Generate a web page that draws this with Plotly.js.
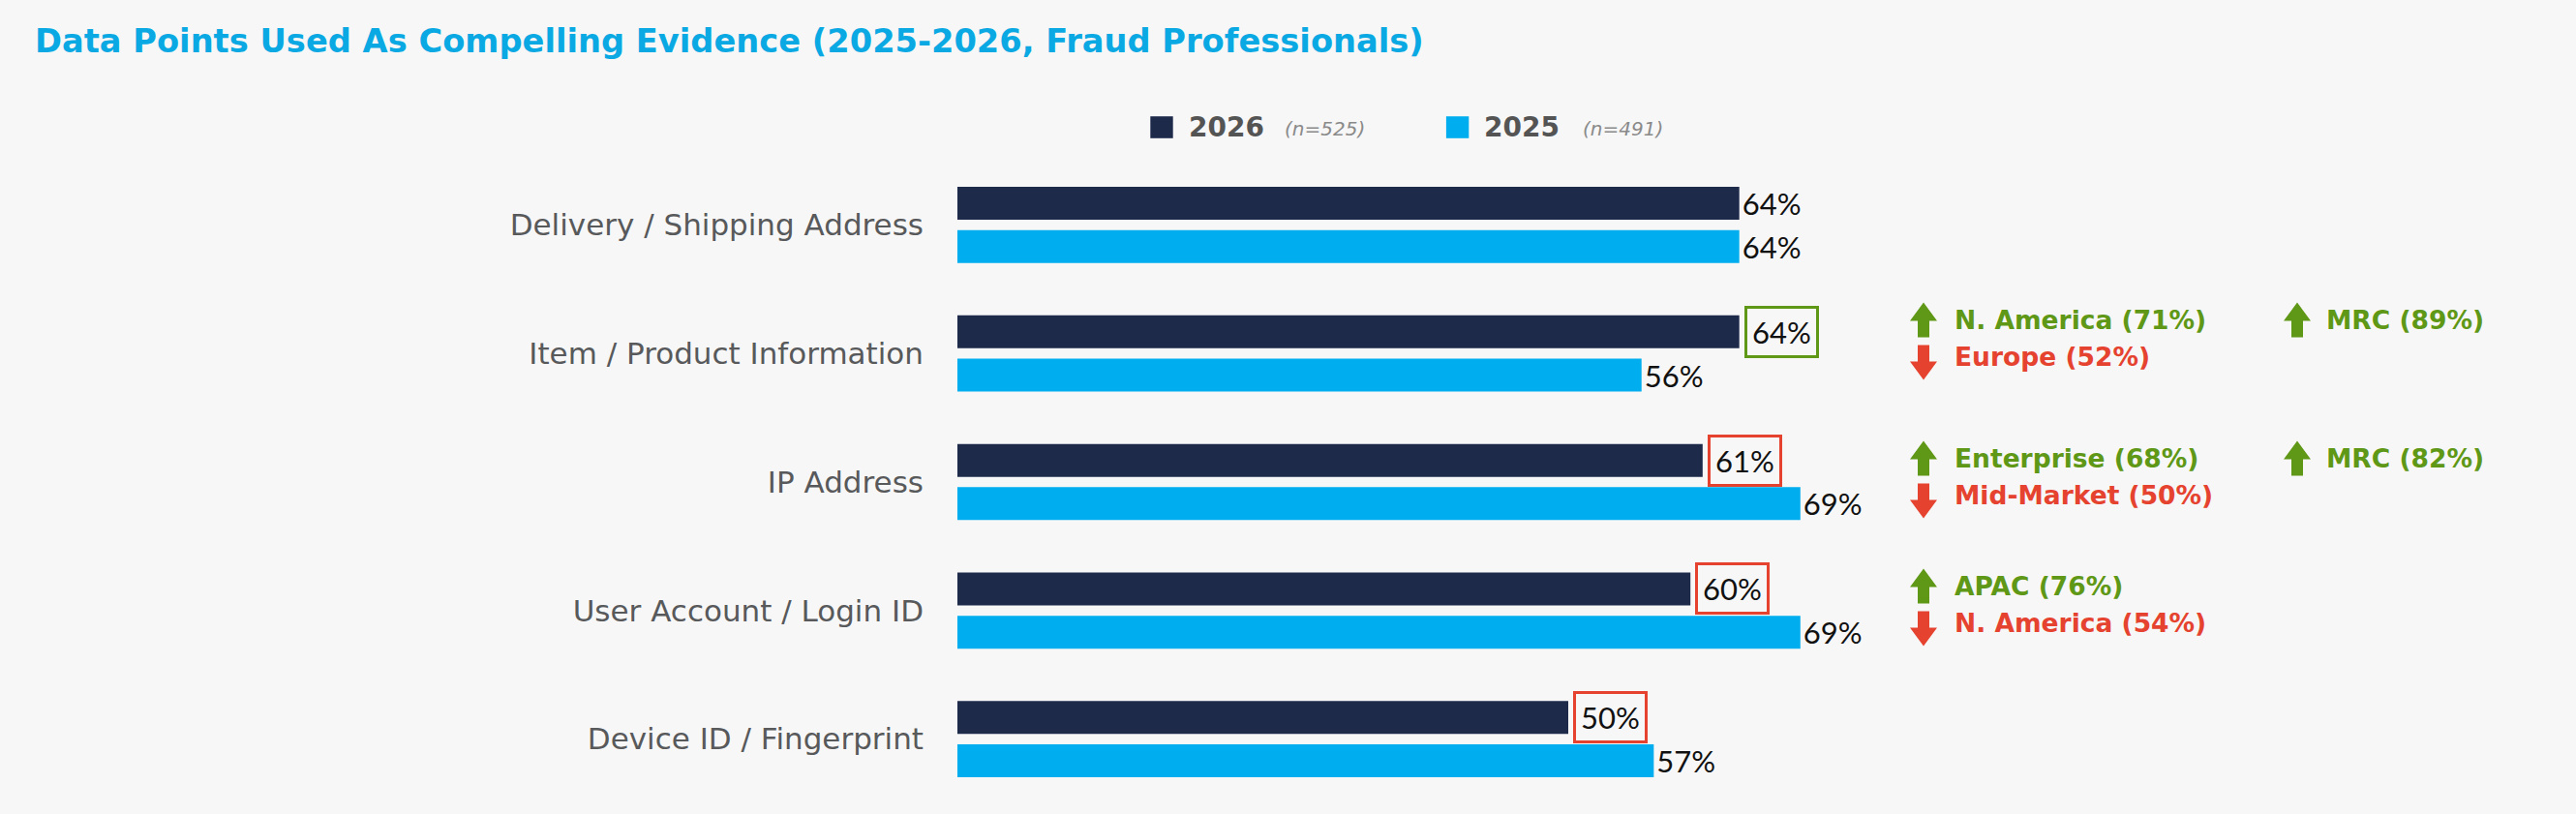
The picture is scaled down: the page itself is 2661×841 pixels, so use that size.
<!DOCTYPE html>
<html><head><meta charset="utf-8">
<script src="https://cdn.plot.ly/plotly-3.0.1.min.js"></script>
<style>html,body{margin:0;padding:0;background:#f7f7f7;}#chart{width:2661px;height:841px;}</style>
</head><body><div id="chart"></div>
<script>
// ---------------- data ----------------
const categories = ['Delivery / Shipping Address','Item / Product Information','IP Address','User Account / Login ID','Device ID / Fingerprint'];
const values2026 = [64, 64, 61, 60, 50];
const values2025 = [64, 56, 69, 69, 57];
const seriesNames = ['2026', '2025'];
const sampleSizes = ['(n=525)', '(n=491)'];
const change2026 = [null, 'up', 'down', 'down', 'down'];   // highlighted 2026 labels

const calloutCats   = ['Item / Product Information','Item / Product Information','Item / Product Information','IP Address','IP Address','IP Address','User Account / Login ID','User Account / Login ID'];
const calloutLabels = ['N. America (71%)','Europe (52%)','MRC (89%)','Enterprise (68%)','Mid-Market (50%)','MRC (82%)','APAC (76%)','N. America (54%)'];
const calloutDirs   = ['up','down','up','up','down','up','up','down'];
const calloutCols   = [0, 0, 1, 0, 0, 1, 0, 0];

// ---------------- styling / layout ----------------
const W = 2661, H = 841;
const M = {l: 989, r: 0, t: 166, b: 11};
const PW = W - M.l - M.r, PH = H - M.t - M.b;
const PX_PER_PCT = 12.62;
const BARGAP = 0.327, BARGROUPGAP = 0.239;
const C_DARK = '#1d2a4a', C_LIGHT = '#00aeef', C_TITLE = '#0aa9e3';
const C_UP = '#5f9816', C_DOWN = '#e5432f';
const FONT = 'DejaVu Sans';
const VFONT = 'Lato';
const px2x = p => (p - M.l) / PW;
const px2y = p => 1 - (p - M.t) / PH;

// callout row positions (pixel y of first text row per category)
const calloutRow0 = {'Item / Product Information': 330, 'IP Address': 473, 'User Account / Login ID': 605};
const ROW_STEP = 38.5;
const colArrowX = [1987, 2373], colTextX = [2017, 2401];

const valueFont = {family: VFONT, size: 31, color: '#111111', weight: 400};

const traces = [
  {type: 'bar', orientation: 'h', name: seriesNames[0], y: categories, x: values2026,
   marker: {color: C_DARK},
   text: values2026.map((v, i) => change2026[i] ? '' : v + '%'),
   textposition: 'outside', constraintext: 'none', cliponaxis: false,
   textfont: valueFont, showlegend: false, hoverinfo: 'skip'},
  {type: 'bar', orientation: 'h', name: seriesNames[1], y: categories, x: values2025,
   marker: {color: C_LIGHT},
   text: values2025.map(v => v + '%'),
   textposition: 'outside', constraintext: 'none', cliponaxis: false,
   textfont: valueFont, showlegend: false, hoverinfo: 'skip'}
];

const annotations = [];
const shapes = [];

// boxed 2026 labels
const darkOffset = (1 - BARGAP) / 4;
values2026.forEach((v, i) => {
  if (!change2026[i]) return;
  annotations.push({xref: 'x', yref: 'y', x: v, y: i - darkOffset, xanchor: 'left', yanchor: 'middle',
    xshift: 5, text: v + '%', showarrow: false, font: valueFont,
    bordercolor: change2026[i] === 'up' ? C_UP : C_DOWN, borderwidth: 3, borderpad: 5, bgcolor: 'rgba(0,0,0,0)'});
});

// callouts
const upPath = 'M0,18 L14,-1 L6,-1 L6,-18 L-6,-18 L-6,-1 L-14,-1 Z';
const downPath = 'M0,-18 L14,1 L6,1 L6,18 L-6,18 L-6,1 L-14,1 Z';
calloutLabels.forEach((lab, k) => {
  const col = calloutCols[k];
  const row = col === 1 ? 0 : (calloutDirs[k] === 'up' ? 0 : 1);
  const ty = calloutRow0[calloutCats[k]] + row * ROW_STEP;
  const color = calloutDirs[k] === 'up' ? C_UP : C_DOWN;
  const ay = calloutDirs[k] === 'up' ? ty + 0.5 : ty + 6;
  shapes.push({type: 'path', xref: 'paper', yref: 'paper', xsizemode: 'pixel', ysizemode: 'pixel',
    xanchor: px2x(colArrowX[col]), yanchor: px2y(ay),
    path: calloutDirs[k] === 'up' ? upPath : downPath, fillcolor: color, line: {width: 0}});
  annotations.push({xref: 'paper', yref: 'paper', x: px2x(colTextX[col]), y: px2y(ty),
    xanchor: 'left', yanchor: 'middle', showarrow: false, text: '<b>' + lab + '</b>',
    font: {family: FONT, size: 26.5, color: color}});
});

// legend (custom, large swatches)
const legendSwatchX = [1200, 1505.6], legendTextX = [1226, 1531], legendNX = [1325, 1633];
const LEG_Y = 131.5;
seriesNames.forEach((nm, i) => {
  const cx = legendSwatchX[i];
  shapes.push({type: 'rect', xref: 'paper', yref: 'paper',
    x0: px2x(cx - 11.7), x1: px2x(cx + 11.7), y0: px2y(LEG_Y - 11.3), y1: px2y(LEG_Y + 11.3),
    fillcolor: i === 0 ? C_DARK : C_LIGHT, line: {width: 0}});
  annotations.push({xref: 'paper', yref: 'paper', x: px2x(legendTextX[i]), y: px2y(LEG_Y),
    xanchor: 'left', yanchor: 'middle', showarrow: false, text: '<b>' + nm + '</b>',
    font: {family: FONT, size: 28, color: '#545454'}});
  annotations.push({xref: 'paper', yref: 'paper', x: px2x(legendNX[i]), y: px2y(LEG_Y + 2),
    xanchor: 'left', yanchor: 'middle', showarrow: false, text: '<i>' + sampleSizes[i] + '</i>',
    font: {family: FONT, size: 20, color: '#8a8a8a', weight: 300}});
});

const layout = {
  width: W, height: H,
  paper_bgcolor: '#f7f7f7', plot_bgcolor: '#f7f7f7',
  margin: M,
  title: {text: '<b>Data Points Used As Compelling Evidence (2025-2026, Fraud Professionals)</b>',
    xref: 'container', yref: 'container', x: 36 / W, xanchor: 'left', y: 1 - 42.5 / H, yanchor: 'middle',
    font: {family: FONT, size: 33.7, color: C_TITLE}},
  barmode: 'group', bargap: BARGAP, bargroupgap: BARGROUPGAP,
  xaxis: {range: [0, PW / PX_PER_PCT], visible: false, fixedrange: true},
  yaxis: {type: 'category', range: [4.5, -0.5], showgrid: false, zeroline: false, showline: false,
    ticks: '', ticklabelstandoff: 34,
    tickfont: {family: FONT, size: 31, color: '#58595b'}, fixedrange: true},
  showlegend: false,
  annotations: annotations,
  shapes: shapes,
  hovermode: false
};

Plotly.newPlot('chart', traces, layout, {displayModeBar: false, staticPlot: true});
</script></body></html>
